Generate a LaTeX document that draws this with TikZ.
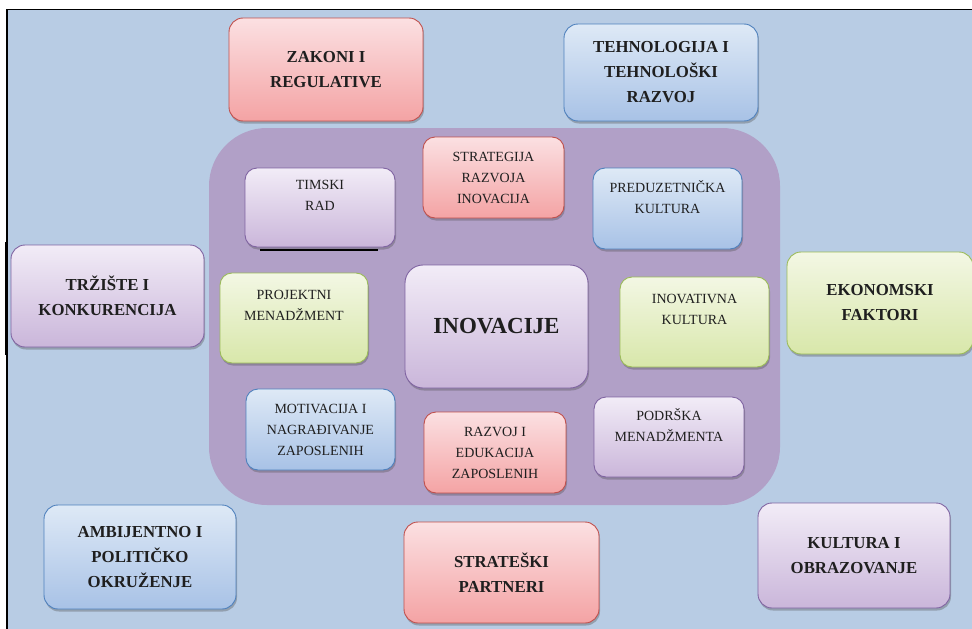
\documentclass[tikz,border=0pt]{standalone}
\usepackage{fontspec}
\setmainfont{Liberation Serif}
\usetikzlibrary{shadows}

\begin{document}
\begin{tikzpicture}[x=1pt, y=-1pt,
  okvir/.style={rectangle, draw, line width=0.9pt, rounded corners=14pt, align=center,
    inner sep=0pt, outer sep=0pt, text=black!88,
    drop shadow={shadow xshift=1pt, shadow yshift=-2.5pt, opacity=0.35, fill=black!70}},
  spoljni/.style={okvir, font=\fontsize{16.8}{25}\selectfont\bfseries},
  unutrasnji/.style={okvir, rounded corners=12pt, font=\fontsize{14}{21}\selectfont},
  gore/.style={text depth=24pt},
  crveni/.style={top color=crvena_svetla, bottom color=crvena_tamna, draw=crvena_ivica},
  plavi/.style={top color=plava_svetla, bottom color=plava_tamna, draw=plava_ivica},
  ljubicasti/.style={top color=ljubicasta_svetla, bottom color=ljubicasta_tamna, draw=ljubicasta_ivica},
  zeleni/.style={top color=zelena_svetla, bottom color=zelena_tamna, draw=zelena_ivica}]

    \definecolor{pozadina}{HTML}{B8CCE4}
    \definecolor{podloga_boja}{HTML}{B1A0C7}
    \definecolor{crvena_svetla}{HTML}{FBE0E2}
    \definecolor{crvena_tamna}{HTML}{F4A3A4}
    \definecolor{crvena_ivica}{HTML}{C0504D}
    \definecolor{plava_svetla}{HTML}{DEE9F6}
    \definecolor{plava_tamna}{HTML}{A8C2E6}
    \definecolor{plava_ivica}{HTML}{4F81BD}
    \definecolor{ljubicasta_svetla}{HTML}{F2ECF7}
    \definecolor{ljubicasta_tamna}{HTML}{CAB6DA}
    \definecolor{ljubicasta_ivica}{HTML}{8064A2}
    \definecolor{zelena_svetla}{HTML}{F3F7E4}
    \definecolor{zelena_tamna}{HTML}{D8E7AA}
    \definecolor{zelena_ivica}{HTML}{9BBB59}

  \useasboundingbox (0,0) rectangle (972,629);

  % Frame and background

  \fill[pozadina] (7,9.5) rectangle (972,629);
  \draw[line width=1.3pt] (7,629) -- (7,9.5) -- (972,9.5);
  \draw[line width=3pt] (6,242) -- (6,355);

  \node[rectangle, fill=podloga_boja, rounded corners=58pt, minimum width=571pt,
    minimum height=377pt, inner sep=0pt] (podloga) at (494.5,316.5) {};

  % Outer factors

  \node[spoljni, crveni, minimum width=194pt, minimum height=103pt] (zakoni) at (326,69.5) {ZAKONI I\\REGULATIVE};
  \node[spoljni, plavi, minimum width=194pt, minimum height=97pt] (tehnologija) at (661,72.5) {TEHNOLOGIJA I\\TEHNOLOŠKI\\RAZVOJ};
  \node[spoljni, ljubicasti, minimum width=193pt, minimum height=102pt] (trziste) at (107.5,296) {TRŽIŠTE I\\KONKURENCIJA};
  \node[spoljni, zeleni, minimum width=186pt, minimum height=102pt] (ekonomski) at (880,303) {EKONOMSKI\\FAKTORI};
  \node[spoljni, plavi, minimum width=192pt, minimum height=104pt] (ambijentno) at (140,557) {AMBIJENTNO I\\POLITIČKO\\OKRUŽENJE};
  \node[spoljni, crveni, minimum width=195pt, minimum height=101pt] (strateski) at (501.5,572.5) {STRATEŠKI\\PARTNERI};
  \node[spoljni, ljubicasti, minimum width=192pt, minimum height=105pt] (kultura) at (854,555.5) {KULTURA I\\OBRAZOVANJE};

  % Inner factors

  \node[unutrasnji, ljubicasti, gore, minimum width=150pt, minimum height=79pt] (timski) at (320,207.5) {TIMSKI\\RAD};
  \node[unutrasnji, crveni, minimum width=141pt, minimum height=81pt] (strategija) at (493.5,177.5) {STRATEGIJA\\RAZVOJA\\INOVACIJA};
  \node[unutrasnji, plavi, gore, minimum width=149pt, minimum height=81pt] (preduzetnicka) at (667.5,208.5) {PREDUZETNIČKA\\KULTURA};
  \node[unutrasnji, zeleni, gore, text depth=26pt, minimum width=148pt, minimum height=90pt] (projektni) at (294,318) {PROJEKTNI\\MENADŽMENT};
  \node[unutrasnji, ljubicasti, rounded corners=18pt, font=\fontsize{23}{27}\selectfont\bfseries,
    minimum width=183pt, minimum height=123pt] (inovacije) at (496.5,326.5) {INOVACIJE};
  \node[unutrasnji, zeleni, gore, text depth=26pt, minimum width=149pt, minimum height=90pt] (inovativna) at (694.5,322) {INOVATIVNA\\KULTURA};
  \node[unutrasnji, plavi, minimum width=149pt, minimum height=81pt] (motivacija) at (320.5,429.5) {MOTIVACIJA I\\NAGRAĐIVANJE\\ZAPOSLENIH};
  \node[unutrasnji, crveni, minimum width=142pt, minimum height=81pt] (razvoj) at (495,452.5) {RAZVOJ I\\EDUKACIJA\\ZAPOSLENIH};
  \node[unutrasnji, ljubicasti, gore, minimum width=150pt, minimum height=80pt] (podrska) at (669,437) {PODRŠKA\\MENADŽMENTA};

  \draw[line width=1.2pt] ([xshift=15pt,yshift=-3pt]timski.south west) -- ([xshift=-17pt,yshift=-3pt]timski.south east);

\end{tikzpicture}
\end{document}
